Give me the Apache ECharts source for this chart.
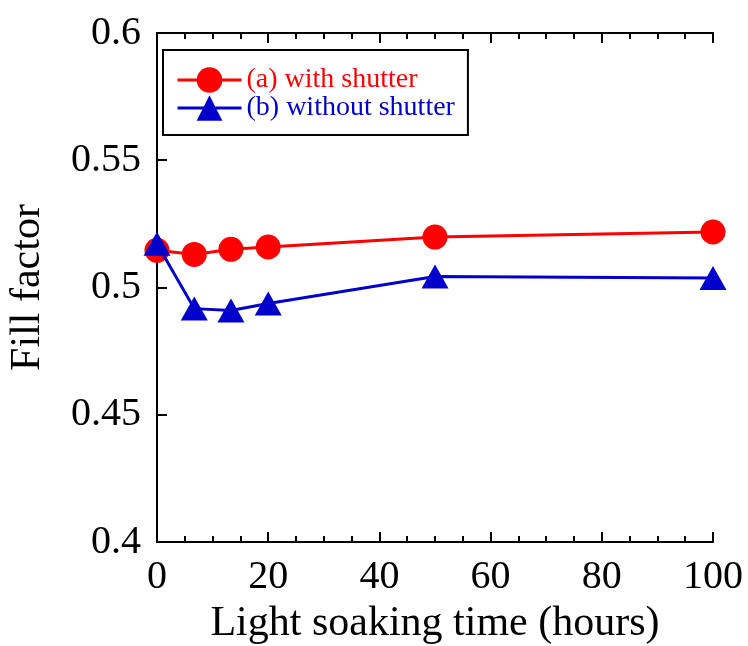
<!DOCTYPE html>
<html>
<head>
<meta charset="utf-8">
<script src="https://cdn.jsdelivr.net/npm/echarts@6/dist/echarts.min.js"></script>
<style>
html,body{margin:0;padding:0;background:#fff;}
#main{width:748px;height:646px;}
</style>
</head>
<body>
<div id="main"></div>
<script>
// soaking time (hours)
var hours = [0, 6.7, 13.3, 20, 50, 100];
// fill factor
var withShutter = [0.5146, 0.5130, 0.5150, 0.5159, 0.5198, 0.5218];
var withoutShutter = [0.5172, 0.4917, 0.4910, 0.4937, 0.5043, 0.5037];
var seriesNames = ['(a) with shutter', '(b) without shutter'];

var font = 'Liberation Serif';

function pairs(xs, ys){
	var out = [];
	for (var i = 0; i < xs.length; i++) {
		out.push([xs[i], ys[i]]);
	}
	return out;
}

var myChart = echarts.init(document.getElementById('main'));
var option = {
	backgroundColor: '#fff',
	animation: false,
	grid: { left: 157, top: 33, right: 35, bottom: 104, outerBoundsMode: 'none' },
	legend: {
		left: 163, top: 50,
		orient: 'vertical',
		padding: [16, 13, 13, 13],
		borderColor: '#000',
		borderWidth: 2,
		itemWidth: 64,
		itemHeight: 32,
		itemGap: 0,
		lineStyle: { width: 3 },
		textStyle: { fontFamily: font, fontSize: 28 },
		data: [
			{ name: seriesNames[0], textStyle: { color: '#ff0000' } },
			{ name: seriesNames[1], textStyle: { color: '#0000cc' } }
		]
	},
	xAxis: [{
		type: 'value', min: 0, max: 100, interval: 20,
		name: 'Light soaking time (hours)',
		nameLocation: 'middle', nameGap: 61,
		nameTextStyle: { fontFamily: font, fontSize: 42, color: '#000' },
		axisLine: { lineStyle: { color: '#000', width: 2 } },
		axisTick: { inside: true, length: 10, lineStyle: { color: '#000', width: 2 } },
		minorTick: { show: true, splitNumber: 4, length: 6, lineStyle: { color: '#000', width: 2 } },
		axisLabel: { fontFamily: font, fontSize: 40, color: '#000', margin: 15 },
		splitLine: { show: false }
	}, {
		type: 'value', min: 0, max: 100, interval: 20, position: 'top',
		axisLine: { lineStyle: { color: '#000', width: 2 } },
		axisTick: { inside: true, length: 10, lineStyle: { color: '#000', width: 2 } },
		minorTick: { show: true, splitNumber: 4, length: 6, lineStyle: { color: '#000', width: 2 } },
		axisLabel: { show: false },
		splitLine: { show: false }
	}],
	yAxis: [{
		type: 'value', min: 0.4, max: 0.6, interval: 0.05,
		name: 'Fill factor',
		nameLocation: 'middle', nameGap: 108,
		nameTextStyle: { fontFamily: font, fontSize: 42, color: '#000' },
		axisLine: { show: true, lineStyle: { color: '#000', width: 2 } },
		axisTick: { inside: true, length: 10, lineStyle: { color: '#000', width: 2 } },
		axisLabel: { fontFamily: font, fontSize: 40, color: '#000', margin: 16,
			formatter: function(v){ return String(+v.toFixed(2)); } },
		splitLine: { show: false }
	}, {
		type: 'value', min: 0.4, max: 0.6, interval: 0.05, position: 'right',
		axisLine: { show: true, lineStyle: { color: '#000', width: 2 } },
		axisTick: { show: false },
		axisLabel: { show: false },
		splitLine: { show: false }
	}],
	series: [{
		name: seriesNames[0],
		type: 'line',
		data: pairs(hours, withShutter),
		symbol: 'circle', symbolSize: 25,
		lineStyle: { color: '#ff0000', width: 3 },
		itemStyle: { color: '#ff0000' },
		z: 2
	}, {
		name: seriesNames[1],
		type: 'line',
		data: pairs(hours, withoutShutter),
		symbol: 'triangle', symbolSize: [27, 24],
		lineStyle: { color: '#0000cc', width: 3 },
		itemStyle: { color: '#0000cc' },
		z: 3
	}]
};
myChart.setOption(option);
</script>
</body>
</html>
